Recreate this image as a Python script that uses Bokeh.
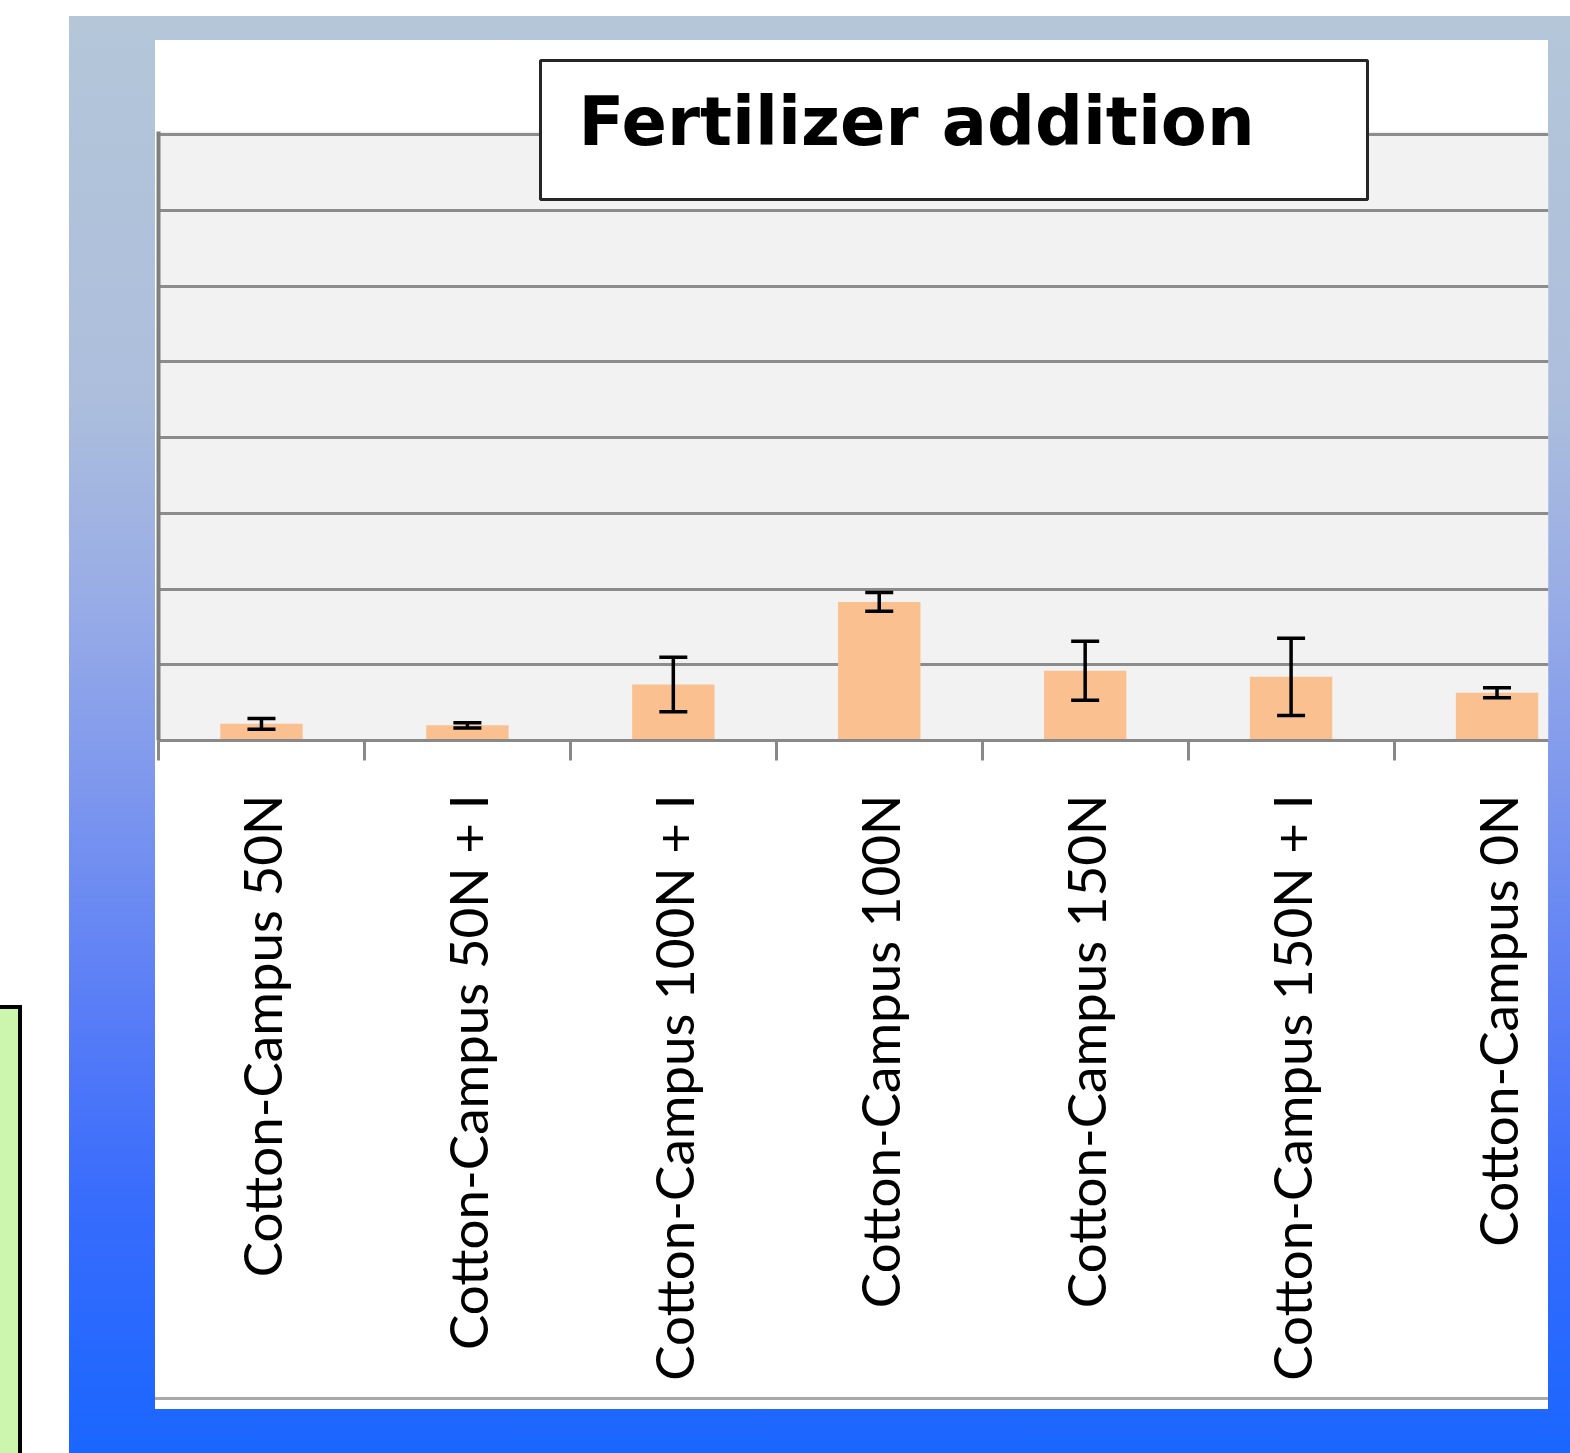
import math
from bokeh.plotting import figure
from bokeh.models import (Range1d, LinearAxis, FixedTicker, BoxAnnotation, Label,
                          Whisker, ColumnDataSource, TeeHead, Grid)
from bokeh.embed import file_html
from bokeh.resources import INLINE

# ---------------- data ----------------
categories = ["Cotton-Campus 50N", "Cotton-Campus 50N + I", "Cotton-Campus 100N + I",
              "Cotton-Campus 100N", "Cotton-Campus 150N", "Cotton-Campus 150N + I",
              "Cotton-Campus 0N"]
values = [0.22, 0.20, 0.74, 1.83, 0.92, 0.84, 0.63]
errors = [0.07, 0.035, 0.36, 0.125, 0.39, 0.51, 0.066]
y_ticks = [0, 1, 2, 3, 4, 5, 6, 7, 8]
title_text = "Fertilizer addition"

# ---------------- layout (page pixels) ----------------
W, H = 1570, 1453
FL, FR, FT, FB = 158, 1548, 40, 740     # frame
Y_PX = 75.75                            # pixels per y unit
X_END = 6.75                            # visible part of the category axis

xs = [i + 0.5 for i in range(len(categories))]
src = ColumnDataSource(dict(
    x=xs, top=values,
    upper=[v + e for v, e in zip(values, errors)],
    lower=[v - e for v, e in zip(values, errors)],
))

# page decoration painted as CSS behind the (transparent) canvas
grad = ("linear-gradient(to bottom, #b4c6d8 0%, #acbedc 26.7%, #98ace6 40.6%, "
        "#7c96ee 54.6%, #5a7ef6 68.5%, #386cfc 82.4%, #1a66ff 100%) "
        "69px 16px / 1501px 1437px no-repeat")
bg = ", ".join([
    "linear-gradient(#a9a9a9,#a9a9a9) 155px 1397px / 1393px 3px no-repeat",
    "linear-gradient(#ffffff,#ffffff) 155px 40px / 1393px 1369px no-repeat",
    "linear-gradient(#ccf5ad,#ccf5ad) 0px 1009px / 18px 444px no-repeat",
    "linear-gradient(#000000,#000000) 0px 1005px / 22px 448px no-repeat",
    grad,
    "#ffffff",
])

p = figure(width=W, height=H, output_backend="svg", toolbar_location=None,
           x_range=Range1d(0, X_END), y_range=Range1d(0, (FB - FT) / Y_PX),
           x_axis_type=None, y_axis_type=None,
           min_border_left=FL, min_border_right=W - FR,
           min_border_top=FT, min_border_bottom=H - FB,
           styles={"background": bg})
p.outline_line_color = None
p.background_fill_color = None
p.border_fill_color = None
p.extra_x_ranges = {"px": Range1d(FL, FR)}
p.extra_y_ranges = {"px": Range1d(FB, FT)}

# grey plot area
p.add_layout(BoxAnnotation(top=8 + 3 / Y_PX, fill_color="#f2f2f2", fill_alpha=1.0,
                           line_color=None, level="image"))

# grid
p.add_layout(Grid(dimension=1, ticker=FixedTicker(ticks=y_ticks),
                  grid_line_color="#8c8c8c", grid_line_width=3))

# bars
p.vbar(x="x", top="top", width=0.4, source=src, fill_color="#fac090", line_color=None)

# error bars
p.add_layout(Whisker(source=src, base="x", upper="upper", lower="lower",
                     line_color="black", line_width=3.5, level="annotation",
                     upper_head=TeeHead(size=28, line_width=3.5, line_color="black"),
                     lower_head=TeeHead(size=28, line_width=3.5, line_color="black")))

# axes
xa = LinearAxis(ticker=FixedTicker(ticks=xs, minor_ticks=list(range(len(categories)))),
                major_label_overrides={x: c for x, c in zip(xs, categories)},
                major_label_orientation=math.pi / 2,
                axis_line_color="#898989", axis_line_width=3,
                major_tick_line_color=None, major_tick_out=0, major_tick_in=0,
                minor_tick_line_color="#898989", minor_tick_line_width=3,
                minor_tick_out=20, minor_tick_in=0,
                major_label_standoff=34,
                major_label_text_font="Lato",
                major_label_text_font_size="53px",
                major_label_text_color="black")
p.add_layout(xa, "below")

ya = LinearAxis(ticker=FixedTicker(ticks=y_ticks), bounds=(0, 8 + 3 / Y_PX),
                major_label_overrides={t: "" for t in y_ticks},
                axis_line_color="#7f7f7f", axis_line_width=4,
                major_tick_line_color=None, minor_tick_line_color=None)
p.add_layout(ya, "left")

# title box
p.add_layout(BoxAnnotation(left=540, right=1367, top=60, bottom=199,
                           x_range_name="px", y_range_name="px",
                           fill_color="white", fill_alpha=1.0,
                           line_color="#262626", line_alpha=1.0, line_width=3,
                           level="overlay"))
p.add_layout(Label(x=578, y=121, x_range_name="px", y_range_name="px", text=title_text,
                   text_font="DejaVu Sans", text_font_style="bold", text_font_size="67px",
                   text_color="black", text_baseline="alphabetic", text_align="left",
                   level="overlay"))

open("out.html", "w").write(file_html(p, INLINE))
